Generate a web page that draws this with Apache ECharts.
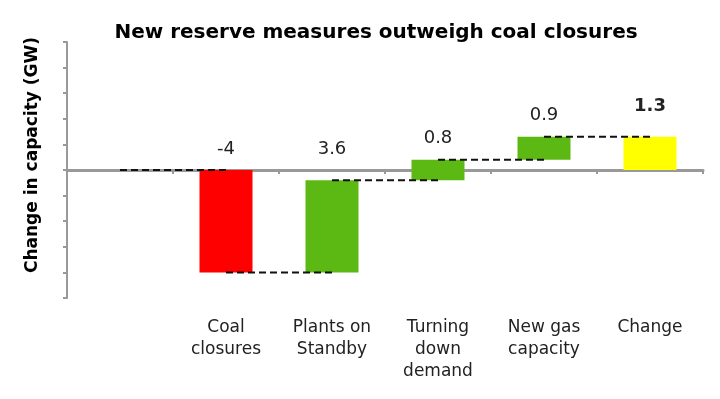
<!DOCTYPE html>
<html>
<head>
<meta charset="utf-8">
<script src="https://cdn.jsdelivr.net/npm/echarts@6/dist/echarts.min.js"></script>
<style>
  html, body { margin: 0; padding: 0; background: #fff; }
  #chart { width: 720px; height: 399px; }
</style>
</head>
<body>
<div id="chart"></div>
<script>
// categories (first slot is the empty start of the waterfall)
var categories = ['', 'Coal\nclosures', 'Plants on\nStandby', 'Turning\ndown\ndemand', 'New gas\ncapacity', 'Change'];
// step changes in GW
var deltas = [-4, 3.6, 0.8, 0.9];
var totalLabel = '1.3';
var deltaLabels = ['-4', '3.6', '0.8', '0.9'];
var yTicks = { min: -5, max: 5, step: 1 };

var FONT = 'DejaVu Sans';
var barColors = ['#FF0000', '#5CB913', '#5CB913', '#5CB913', '#FFFF00'];

// build bar ranges + connector levels from the deltas
var bars = [];
var levels = [0];
var running = 0;
deltas.forEach(function (d, i) {
  var start = running;
  running = Math.round((running + d) * 10) / 10;
  bars.push([i + 1, Math.min(start, running), Math.max(start, running), deltaLabels[i], 0]);
  levels.push(running);
});
bars.push([deltas.length + 1, 0, running, totalLabel, 1]);

var connectors = [];
for (var i = 1; i < categories.length; i++) {
  connectors.push([i, levels[i - 1]]);
}

var chart = echarts.init(document.getElementById('chart'));

chart.setOption({
  animation: false,
  title: {
    text: 'New reserve measures outweigh coal closures',
    left: 371,
    textAlign: 'center',
    top: 18,
    textStyle: { fontFamily: FONT, fontSize: 20, fontWeight: 'bold', color: '#000' }
  },
  grid: { left: 67, right: 17, top: 42, bottom: 101 },
  xAxis: [{
    type: 'category',
    data: categories,
    axisLine: { onZero: true, lineStyle: { color: '#999', width: 3 } },
    axisTick: { show: true, length: 4, lineStyle: { color: '#999', width: 2 } },
    axisLabel: { show: false }
  }, {
    type: 'category',
    data: categories,
    position: 'bottom',
    axisLine: { show: false, onZero: false },
    axisTick: { show: false },
    axisLabel: {
      margin: 19,
      fontFamily: FONT, fontSize: 17, color: '#222', lineHeight: 22
    }
  }],
  yAxis: {
    type: 'value',
    min: yTicks.min, max: yTicks.max, interval: yTicks.step,
    name: 'Change in capacity (GW)',
    nameLocation: 'middle',
    nameGap: 26,
    nameTextStyle: { fontFamily: FONT, fontSize: 17, fontWeight: 'bold', color: '#000', padding: [0, 0, 0, 30] },
    axisLine: { show: true, lineStyle: { color: '#999', width: 2 } },
    axisTick: { show: true, length: 4, lineStyle: { color: '#999', width: 2 } },
    axisLabel: { show: false },
    splitLine: { show: false }
  },
  series: [{
    type: 'custom',
    data: bars,
    z: 2,
    renderItem: function (params, api) {
      var x = api.value(0), lo = api.value(1), hi = api.value(2);
      var isTotal = api.value(4) === 1;
      var top = api.coord([x, hi]);
      var bottom = api.coord([x, lo]);
      var w = api.size([1, 0])[0] * 0.5;
      var labelAt = api.coord([x, Math.max(hi, 0)]);
      return {
        type: 'group',
        children: [{
          type: 'rect',
          shape: { x: top[0] - w / 2, y: top[1], width: w, height: bottom[1] - top[1] },
          style: { fill: barColors[params.dataIndex] }
        }, {
          type: 'text',
          x: labelAt[0],
          y: labelAt[1] - (isTotal ? 30 : 21),
          style: {
            text: bars[params.dataIndex][3],
            fontFamily: FONT, fontSize: 18,
            fontWeight: isTotal ? 'bold' : 'normal',
            fill: '#222',
            align: 'center', verticalAlign: 'middle'
          }
        }]
      };
    }
  }, {
    type: 'custom',
    data: connectors,
    z: 3,
    renderItem: function (params, api) {
      var x = api.value(0), lvl = api.value(1);
      var a = api.coord([x - 1, lvl]);
      var b = api.coord([x, lvl]);
      return {
        type: 'line',
        shape: { x1: a[0], y1: a[1], x2: b[0], y2: b[1] },
        style: { stroke: '#111', lineWidth: 2, lineDash: [7, 4] }
      };
    }
  }]
});
</script>
</body>
</html>
